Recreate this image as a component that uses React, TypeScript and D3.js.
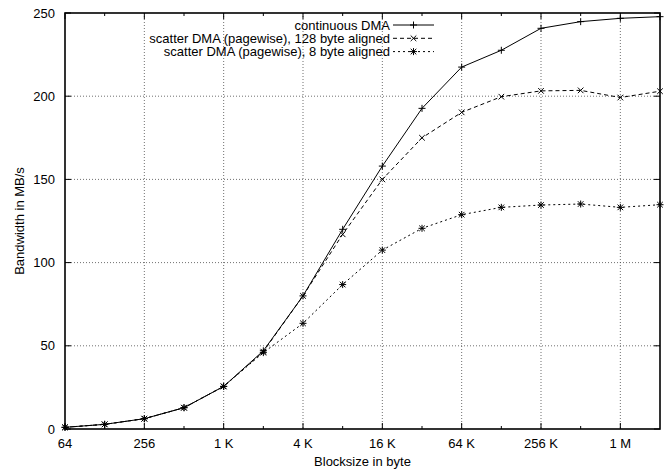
import * as d3 from "d3";

const blockSizes = [64, 128, 256, 512, 1024, 2048, 4096, 8192, 16384, 32768, 65536, 131072, 262144, 524288, 1048576, 2097152];
const continuousDMA = [1, 2.8, 6.2, 12.8, 25.6, 47, 80, 120, 158, 192.7, 217.5, 227.6, 240.8, 244.8, 246.8, 247.8];
const scatter128 = [1, 2.8, 6.2, 12.8, 25.6, 46.5, 80, 117, 150, 175, 190.3, 199.7, 203.2, 203.5, 199.2, 203];
const scatter8 = [1, 2.8, 6.2, 12.8, 25.6, 45.9, 63.5, 86.8, 107.5, 120.6, 128.8, 133.2, 134.6, 135.2, 133.2, 134.8];
const seriesNames = ["continuous DMA", "scatter DMA (pagewise), 128 byte aligned", "scatter DMA (pagewise), 8 byte aligned"];
const xTickValues = [64, 256, 1024, 4096, 16384, 65536, 262144, 1048576];
const xTickLabels = ["64", "256", "1 K", "4 K", "16 K", "64 K", "256 K", "1 M"];
const xMinorValues = [128, 512, 2048, 8192, 32768, 131072, 524288];
const yTickValues = [0, 50, 100, 150, 200, 250];

const W = 669;
const H = 475;
const left = 65;
const right = 660;
const top = 13;
const bottom = 429;
const font = "'Liberation Sans', Arial, Helvetica, sans-serif";

function Marker({ kind, x, y }: { kind: number; x: number; y: number }) {
  const s = 3.5;
  const plus = `M${x - s},${y}H${x + s}M${x},${y - s}V${y + s}`;
  const cross = `M${x - s * 0.8},${y - s * 0.8}L${x + s * 0.8},${y + s * 0.8}M${x - s * 0.8},${y + s * 0.8}L${x + s * 0.8},${y - s * 0.8}`;
  const d = kind === 0 ? plus : kind === 1 ? cross : plus + cross;
  return <path d={d} stroke="#000" strokeWidth={1} fill="none" />;
}

export default function App() {
  const x = d3.scaleLog().base(2).domain([64, 2097152]).range([left, right]);
  const y = d3.scaleLinear().domain([0, 250]).range([bottom, top]);

  const series = [continuousDMA, scatter128, scatter8];
  const dashes = ["none", "4,3", "2,3"];
  const line = d3
    .line<number>()
    .x((_, i) => x(blockSizes[i]))
    .y((d) => y(d));

  return (
    <svg width={W} height={H} style={{ position: "absolute", left: 0, top: 0, background: "#fff" }} fontFamily={font} fontSize={13}>
      {/* grid */}
      <g stroke="#000" strokeWidth={0.8} strokeDasharray="1,2" opacity={0.7}>
        {yTickValues.slice(1, -1).map((v) => (
          <line key={"gy" + v} x1={left} x2={right} y1={y(v)} y2={y(v)} />
        ))}
        {xTickValues.slice(1).map((v) => (
          <line key={"gx" + v} x1={x(v)} x2={x(v)} y1={top} y2={bottom} />
        ))}
      </g>
      {/* ticks */}
      <g stroke="#000" strokeWidth={1}>
        {xTickValues.map((v) => (
          <g key={"tx" + v}>
            <line x1={x(v)} x2={x(v)} y1={bottom} y2={bottom - 6} />
            <line x1={x(v)} x2={x(v)} y1={top} y2={top + 6} />
          </g>
        ))}
        {xMinorValues.map((v) => (
          <g key={"mx" + v}>
            <line x1={x(v)} x2={x(v)} y1={bottom} y2={bottom - 3} />
            <line x1={x(v)} x2={x(v)} y1={top} y2={top + 3} />
          </g>
        ))}
        {yTickValues.map((v) => (
          <g key={"ty" + v}>
            <line x1={left} x2={left + 6} y1={y(v)} y2={y(v)} />
            <line x1={right} x2={right - 6} y1={y(v)} y2={y(v)} />
          </g>
        ))}
      </g>
      {/* border */}
      <rect x={left} y={top} width={right - left} height={bottom - top} fill="none" stroke="#000" strokeWidth={1.6} />
      {/* tick labels */}
      {yTickValues.map((v) => (
        <text key={"ly" + v} x={left - 10} y={y(v)} dy="0.35em" textAnchor="end">
          {v}
        </text>
      ))}
      {xTickValues.map((v, i) => (
        <text key={"lx" + v} x={x(v)} y={bottom + 19} textAnchor="middle">
          {xTickLabels[i]}
        </text>
      ))}
      <text x={(left + right) / 2} y={466} textAnchor="middle">
        Blocksize in byte
      </text>
      <text transform={`translate(24, ${(top + bottom) / 2}) rotate(-90)`} textAnchor="middle">
        Bandwidth in MB/s
      </text>
      {/* series */}
      {series.map((vals, si) => (
        <g key={"s" + si}>
          <path d={line(vals) ?? ""} fill="none" stroke="#000" strokeWidth={1} strokeDasharray={dashes[si]} />
          {vals.map((v, i) => (
            <Marker key={i} kind={si} x={x(blockSizes[i])} y={y(v)} />
          ))}
        </g>
      ))}
      {/* legend */}
      {seriesNames.map((name, si) => {
        const ly = 25 + si * 13.3;
        return (
          <g key={"leg" + si}>
            <text x={390} y={ly} dy="0.35em" textAnchor="end">
              {name}
            </text>
            <line x1={393} x2={434} y1={ly} y2={ly} stroke="#000" strokeWidth={1} strokeDasharray={dashes[si]} />
            <Marker kind={si} x={413.5} y={ly} />
          </g>
        );
      })}
    </svg>
  );
}
